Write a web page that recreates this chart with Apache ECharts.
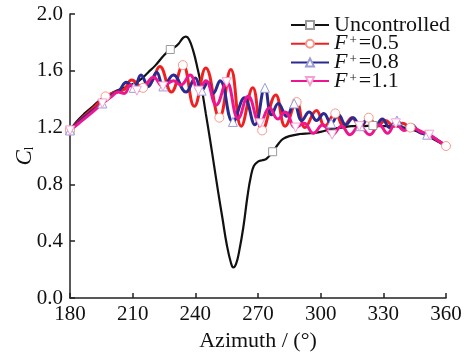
<!DOCTYPE html>
<html><head><meta charset="utf-8">
<script src="https://cdn.jsdelivr.net/npm/echarts@6/dist/echarts.min.js"></script>
<style>html,body{margin:0;padding:0;background:#fff}#c{width:469px;height:356px}</style>
</head><body><div id="c"></div>
<script>
// Azimuth (deg), lift coefficient C_l
const uncontrolled = [[180,1.18],[183,1.24],[187,1.30],[191,1.35],[195,1.40],[201.5,1.455],[205,1.475],[209,1.50],[213,1.53],[217.5,1.59],[221,1.64],[225,1.71],[228,1.75],[230,1.765],[232,1.79],[234,1.83],[235.5,1.84],[237,1.82],[239,1.74],[241,1.62],[243,1.48],[245,1.30],[247,1.12],[249,0.93],[251,0.74],[253,0.56],[255,0.38],[257,0.25],[258.2,0.215],[259.5,0.24],[261,0.33],[263,0.50],[265,0.72],[266.5,0.85],[268,0.93],[270,0.96],[272,0.97],[274,0.98],[277,1.03],[280,1.09],[282,1.12],[285,1.14],[290,1.155],[295,1.16],[300,1.17],[305,1.19],[310,1.20],[315,1.21],[320,1.21],[325,1.215],[330,1.21],[335,1.21],[340,1.20],[345,1.18],[350,1.15],[355,1.11],[360,1.07]];
const f05 = [[180,1.18],[186,1.27],[192,1.35],[197,1.42],[202,1.45],[206,1.47],[209.5,1.535],[215,1.48],[219,1.52],[223,1.63],[228.5,1.45],[234,1.64],[239.5,1.35],[245,1.62],[251.5,1.27],[257,1.61],[262,1.21],[267.5,1.48],[272,1.18],[278.5,1.43],[283,1.21],[288.5,1.38],[292.5,1.20],[298,1.32],[302,1.21],[307,1.30],[311,1.21],[315,1.27],[319,1.20],[323,1.27],[327,1.21],[331,1.25],[335,1.21],[339,1.23],[343,1.20],[347,1.18],[351,1.15],[355,1.12],[360,1.07]];
const f08 = [[180,1.18],[185,1.25],[190,1.31],[195.5,1.37],[200,1.43],[203.5,1.46],[207,1.52],[210.5,1.48],[214,1.57],[217.5,1.49],[221.5,1.59],[224.7,1.49],[229.5,1.57],[235.5,1.45],[240,1.55],[243,1.46],[246,1.52],[248.5,1.44],[251.8,1.53],[258,1.24],[263.5,1.41],[268.5,1.22],[273.3,1.48],[276.5,1.29],[279.7,1.37],[283.7,1.28],[287.3,1.37],[291,1.25],[294.5,1.31],[298,1.25],[301.5,1.30],[305,1.23],[308.5,1.29],[312,1.22],[315.5,1.27],[319,1.21],[322.5,1.26],[326,1.21],[329.5,1.26],[333,1.20],[336.5,1.25],[340,1.19],[343.5,1.22],[347,1.17],[351,1.15],[355,1.12],[360,1.07]];
const f11 = [[180,1.18],[185,1.24],[190,1.30],[195.5,1.37],[200,1.42],[203,1.45],[206,1.44],[209,1.50],[212,1.46],[216,1.50],[220,1.555],[224.5,1.49],[229.5,1.53],[233,1.50],[237.5,1.57],[241.5,1.46],[245,1.53],[250,1.36],[255,1.52],[260.5,1.265],[265.3,1.42],[271,1.23],[275.5,1.34],[279.5,1.26],[283,1.31],[288,1.20],[292,1.23],[296.5,1.16],[301,1.22],[305.5,1.15],[310,1.21],[314,1.15],[318.5,1.21],[323.5,1.15],[328,1.22],[332,1.16],[336,1.23],[340,1.18],[344,1.20],[348,1.17],[352,1.15],[356,1.11],[360,1.07]];
// azimuths where a marker is drawn
const squareAz = [180, 228, 277, 325];
const circleAz = [180, 198, 216, 234, 252, 270, 288, 306, 324, 342, 360];
const triAz = [180, 195.5, 211, 226.5, 242, 257.5, 273, 288.5, 304, 319.5, 335, 350.5];
const yTicks = [0.0, 0.4, 0.8, 1.2, 1.6, 2.0];
const xTicks = [180, 210, 240, 270, 300, 330, 360];
const seriesNames = ['Uncontrolled', 'F+=0.5', 'F+=0.8', 'F+=1.1'];

function withMarkers(data, marks) {
  const idx = new Set(marks.map(m => {
    let best = 0;
    data.forEach((p, i) => { if (Math.abs(p[0] - m) < Math.abs(data[best][0] - m)) best = i; });
    return best;
  }));
  return data.map((p, i) => idx.has(i) ? { value: p } : { value: p, symbol: 'none' });
}

const FONT = '"Liberation Serif", "Times New Roman", serif';
const chart = echarts.init(document.getElementById('c'), null, { renderer: 'canvas' });
function mk(name, data, marks, color, mcolor, symbol, size, width, rot) {
  return {
    name, type: 'line', data: withMarkers(data, marks), smooth: 0.45,
    symbol, symbolSize: size, symbolRotate: rot || 0, showSymbol: true,
    lineStyle: { color, width }, itemStyle: { color: '#fff', borderColor: mcolor, borderWidth: 1 },
    emphasis: { disabled: true }, animation: false
  };
}
chart.setOption({
  animation: false,
  grid: { left: 70, right: 23, top: 14, bottom: 58, containLabel: false, outerBoundsMode: 'none' },
  xAxis: {
    type: 'value', min: 180, max: 360, interval: 30,
    name: 'Azimuth / (°)', nameLocation: 'middle', nameGap: 31,
    nameTextStyle: { fontFamily: FONT, fontSize: 22, color: '#111' },
    axisLine: { lineStyle: { color: '#222', width: 1.5 } },
    axisTick: { inside: true, length: 5, lineStyle: { color: '#222', width: 1.5 } },
    axisLabel: { fontFamily: FONT, fontSize: 21, color: '#111', margin: 6 },
    splitLine: { show: false }
  },
  yAxis: {
    type: 'value', min: 0, max: 2.0, interval: 0.4,
    name: '{i|C}{s|l}', nameLocation: 'middle', nameGap: 34, nameRotate: 90, nameMoveOverlap: false,
    nameTextStyle: { fontFamily: FONT, fontSize: 22, color: '#111',
      rich: { i: { fontFamily: FONT, fontSize: 23, fontStyle: 'italic', color: '#111' },
              s: { fontFamily: FONT, fontSize: 13, color: '#111', verticalAlign: 'bottom', padding: [10, 0, 0, 0] } } },
    axisLine: { show: true, lineStyle: { color: '#222', width: 1.5 } },
    axisTick: { show: true, inside: true, length: 5, lineStyle: { color: '#222', width: 1.5 } },
    axisLabel: { fontFamily: FONT, fontSize: 21, color: '#111', margin: 7, formatter: v => v.toFixed(1) },
    splitLine: { show: false }
  },
  legend: {
    orient: 'vertical', left: 290, top: 14, padding: 0, itemWidth: 38, itemHeight: 10, itemGap: -3.3,
    data: seriesNames,
    formatter: n => n.startsWith('F+') ? '{i|F}{sup|+}{n|' + n.slice(2) + '}' : '{n|' + n + '}',
    textStyle: { fontFamily: FONT, fontSize: 22, color: '#111', lineHeight: 19, padding: [0,0,0,0],
      rich: { n: { fontFamily: FONT, fontSize: 22, color: '#111', lineHeight: 19 },
              i: { fontFamily: FONT, fontSize: 22, fontStyle: 'italic', color: '#111', lineHeight: 19 },
              sup: { fontFamily: FONT, fontSize: 13, color: '#111', lineHeight: 19, verticalAlign: 'top', padding: [0, 2, 6, 2] } } }
  },
  series: [
    mk(seriesNames[0], uncontrolled, squareAz, '#111', '#9a9a9a', 'rect', 8, 2.2),
    mk(seriesNames[1], f05, circleAz, '#f02020', '#f59a8c', 'circle', 9, 3),
    mk(seriesNames[2], f08, triAz, '#2a2a90', '#9a9ad8', 'triangle', 9, 3),
    mk(seriesNames[3], f11, triAz, '#ee1690', '#f5a0d0', 'triangle', 9, 3, 180)
  ]
});
</script></body></html>
